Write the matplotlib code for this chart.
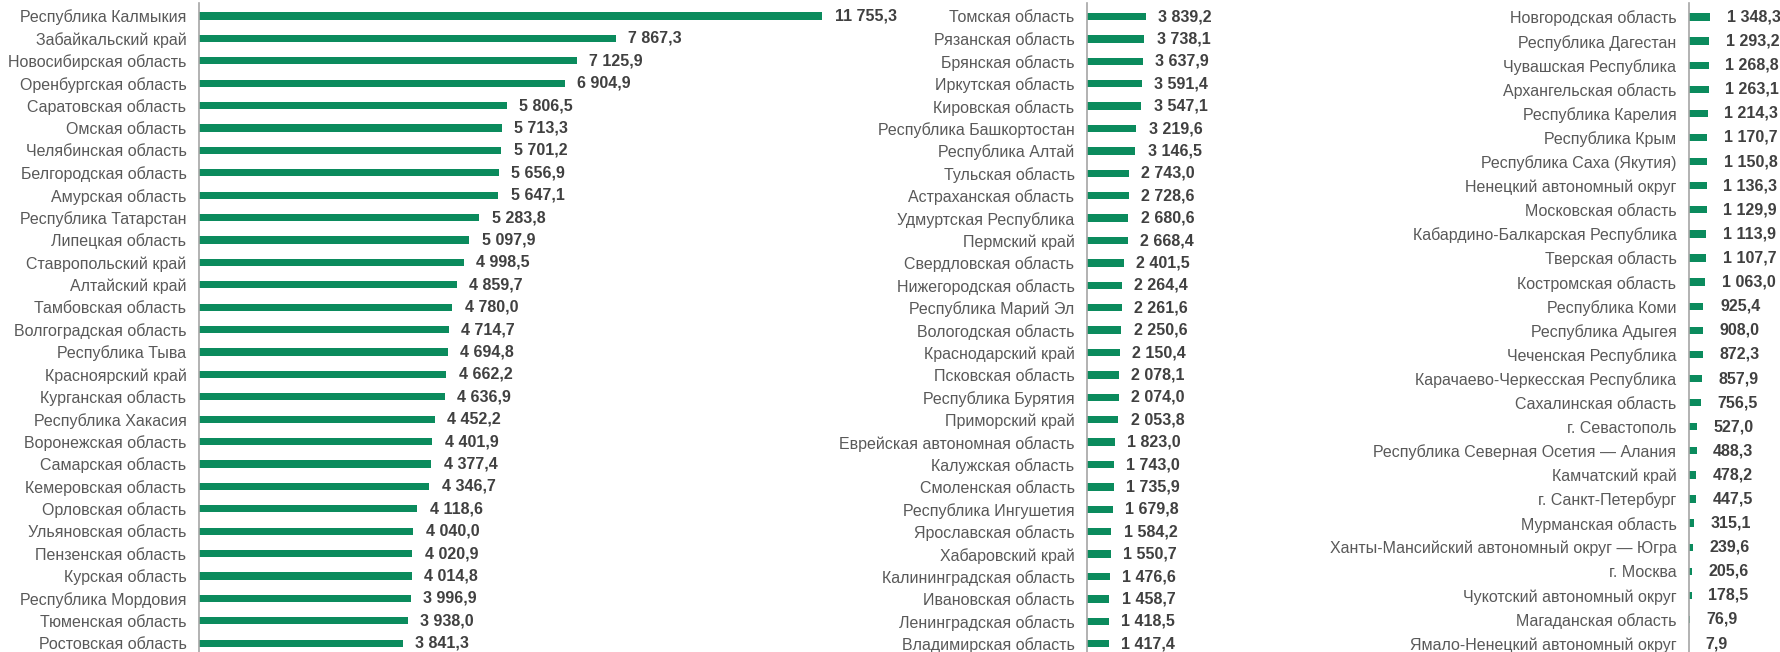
import matplotlib
matplotlib.use("Agg")
import matplotlib.pyplot as plt

plt.rcParams['font.family'] = ['Liberation Sans', 'DejaVu Sans']

# panel 1
regions_1 = [
    "Республика Калмыкия", "Забайкальский край", "Новосибирская область",
    "Оренбургская область", "Саратовская область", "Омская область",
    "Челябинская область", "Белгородская область", "Амурская область",
    "Республика Татарстан", "Липецкая область", "Ставропольский край",
    "Алтайский край", "Тамбовская область", "Волгоградская область",
    "Республика Тыва", "Красноярский край", "Курганская область",
    "Республика Хакасия", "Воронежская область", "Самарская область",
    "Кемеровская область", "Орловская область", "Ульяновская область",
    "Пензенская область", "Курская область", "Республика Мордовия",
    "Тюменская область", "Ростовская область",
]
values_1 = [
    11755.3, 7867.3, 7125.9, 6904.9, 5806.5, 5713.3, 5701.2, 5656.9, 5647.1,
    5283.8, 5097.9, 4998.5, 4859.7, 4780.0, 4714.7, 4694.8, 4662.2, 4636.9,
    4452.2, 4401.9, 4377.4, 4346.7, 4118.6, 4040.0, 4020.9, 4014.8, 3996.9,
    3938.0, 3841.3,
]

# panel 2
regions_2 = [
    "Томская область", "Рязанская область", "Брянская область",
    "Иркутская область", "Кировская область", "Республика Башкортостан",
    "Республика Алтай", "Тульская область", "Астраханская область",
    "Удмуртская Республика", "Пермский край", "Свердловская область",
    "Нижегородская область", "Республика Марий Эл", "Вологодская область",
    "Краснодарский край", "Псковская область", "Республика Бурятия",
    "Приморский край", "Еврейская автономная область", "Калужская область",
    "Смоленская область", "Республика Ингушетия", "Ярославская область",
    "Хабаровский край", "Калининградская область", "Ивановская область",
    "Ленинградская область", "Владимирская область",
]
values_2 = [
    3839.2, 3738.1, 3637.9, 3591.4, 3547.1, 3219.6, 3146.5, 2743.0, 2728.6,
    2680.6, 2668.4, 2401.5, 2264.4, 2261.6, 2250.6, 2150.4, 2078.1, 2074.0,
    2053.8, 1823.0, 1743.0, 1735.9, 1679.8, 1584.2, 1550.7, 1476.6, 1458.7,
    1418.5, 1417.4,
]

# panel 3
regions_3 = [
    "Новгородская область", "Республика Дагестан", "Чувашская Республика",
    "Архангельская область", "Республика Карелия", "Республика Крым",
    "Республика Саха (Якутия)", "Ненецкий автономный округ",
    "Московская область", "Кабардино-Балкарская Республика",
    "Тверская область", "Костромская область", "Республика Коми",
    "Республика Адыгея", "Чеченская Республика",
    "Карачаево-Черкесская Республика", "Сахалинская область",
    "г. Севастополь", "Республика Северная Осетия — Алания",
    "Камчатский край", "г. Санкт-Петербург", "Мурманская область",
    "Ханты-Мансийский автономный округ — Югра", "г. Москва",
    "Чукотский автономный округ", "Магаданская область",
    "Ямало-Ненецкий автономный округ",
]
values_3 = [
    1348.3, 1293.2, 1268.8, 1263.1, 1214.3, 1170.7, 1150.8, 1136.3, 1129.9,
    1113.9, 1107.7, 1063.0, 925.4, 908.0, 872.3, 857.9, 756.5, 527.0, 488.3,
    478.2, 447.5, 315.1, 239.6, 205.6, 178.5, 76.9, 7.9,
]

W, H = 1781, 652
BAR = "#0b8b5d"
LABEL = "#595959"
VALUE = "#404040"


def fmt(v):
    return f"{v:,.1f}".replace(",", " ").replace(".", ",")


def panel(fig, left_px, width_px, xmax, names, vals, row_px, first_px, bar_h, off):
    top_px = 3
    ax = fig.add_axes([left_px / W, 0, width_px / W, (H - top_px) / H])
    ax.set_facecolor("none")
    n = len(names)
    y = list(range(n))
    ax.barh(y, vals, height=bar_h, color=BAR)
    ax.set_xlim(0, xmax)
    ax.set_ylim((H - first_px) / row_px, (top_px - first_px) / row_px)
    ax.set_yticks(y)
    ax.set_yticklabels(names, fontsize=11.5, color=LABEL)
    ax.tick_params(axis="y", length=0, pad=9)
    ax.set_xticks([])
    for s in ["top", "right", "bottom"]:
        ax.spines[s].set_visible(False)
    ax.spines["left"].set_color("#a6a6a6")
    ax.spines["left"].set_linewidth(1.2)
    for yi, v in zip(y, vals):
        ax.annotate(fmt(v), (v, yi), xytext=(off, 0), textcoords="offset points",
                    va="center", ha="left", fontsize=11.5, fontweight="bold",
                    color=VALUE, annotation_clip=False)
    return ax


fig = plt.figure(figsize=(W / 100, H / 100), dpi=100)
panel(fig, 199, 720, 720 / 0.053, regions_1, values_1, 22.4, 16, 0.33, 9)
panel(fig, 1087, 220, 220 / 0.0153, regions_2, values_2, 22.4, 16.5, 0.33, 9)
panel(fig, 1689, 92, 92 / 0.0155, regions_3, values_3, 24.1, 17, 0.3, 12)

fig.savefig("out.png", dpi=100)
